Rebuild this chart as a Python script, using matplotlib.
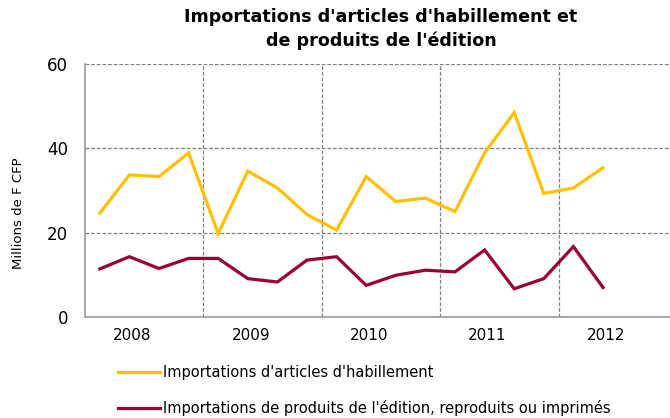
import matplotlib
matplotlib.use("Agg")
import matplotlib.pyplot as plt
import numpy as np

years = ["2008", "2009", "2010", "2011", "2012"]
habillement = [24.6, 33.7, 33.3, 38.9, 19.8, 34.6, 30.6, 24.3, 20.6, 33.3,
               27.4, 28.2, 25.0, 38.9, 48.5, 29.3, 30.6, 35.4]
edition = [11.4, 14.3, 11.5, 13.9, 13.9, 9.1, 8.3, 13.5, 14.3, 7.5,
           9.9, 11.1, 10.7, 15.9, 6.7, 9.1, 16.7, 7.0]
labels = ["Importations d'articles d'habillement",
          "Importations de produits de l'édition, reproduits ou imprimés"]

fig = plt.figure(figsize=(6.7, 4.18), dpi=100)
ax = fig.add_axes([85/670, 101/418, 592/670, 253/418])

x = np.arange(len(habillement))
ax.plot(x, habillement, color="#FFC000", lw=2.3, label=labels[0], solid_joinstyle="miter")
ax.plot(x, edition, color="#990033", lw=2.3, label=labels[1], solid_joinstyle="miter")

ax.set_xlim(-0.5, 19.5)
ax.set_ylim(0, 60)
ax.set_yticks([0, 20, 40, 60])
ax.set_xticks([3.5, 7.5, 11.5, 15.5])
ax.set_xticklabels([])
ax.set_xticks([1.1 + 4*i for i in range(len(years))], minor=True)
ax.set_xticklabels(years, minor=True)
ax.tick_params(axis="x", which="both", length=0, pad=8, labelsize=11)
ax.tick_params(axis="y", length=0, pad=12, labelsize=12)
ax.grid(True, which="major", color="#808080", ls=(0, (3, 1.5)), lw=0.9)
for s in ["top", "right"]:
    ax.spines[s].set_visible(False)
for s in ["left", "bottom"]:
    ax.spines[s].set_color("#999999")
    ax.spines[s].set_linewidth(1.2)

ax.set_ylabel("Millions de F CFP", fontsize=9.5)
ax.yaxis.set_label_coords((25 - 85) / 592, 0.41)
fig.text(381/670, 1 - 8/418, "Importations d'articles d'habillement et\nde produits de l'édition",
         ha="center", va="top", fontsize=12.6, fontweight="bold", linespacing=1.35)

ax.legend(loc="upper left", bbox_to_anchor=(118/670, 1 - 365/418), bbox_transform=fig.transFigure,
          frameon=False, fontsize=10.5, handlelength=2.85, handletextpad=0.25, labelspacing=1.4,
          borderaxespad=0, borderpad=0)

fig.savefig("out.png", dpi=100)
